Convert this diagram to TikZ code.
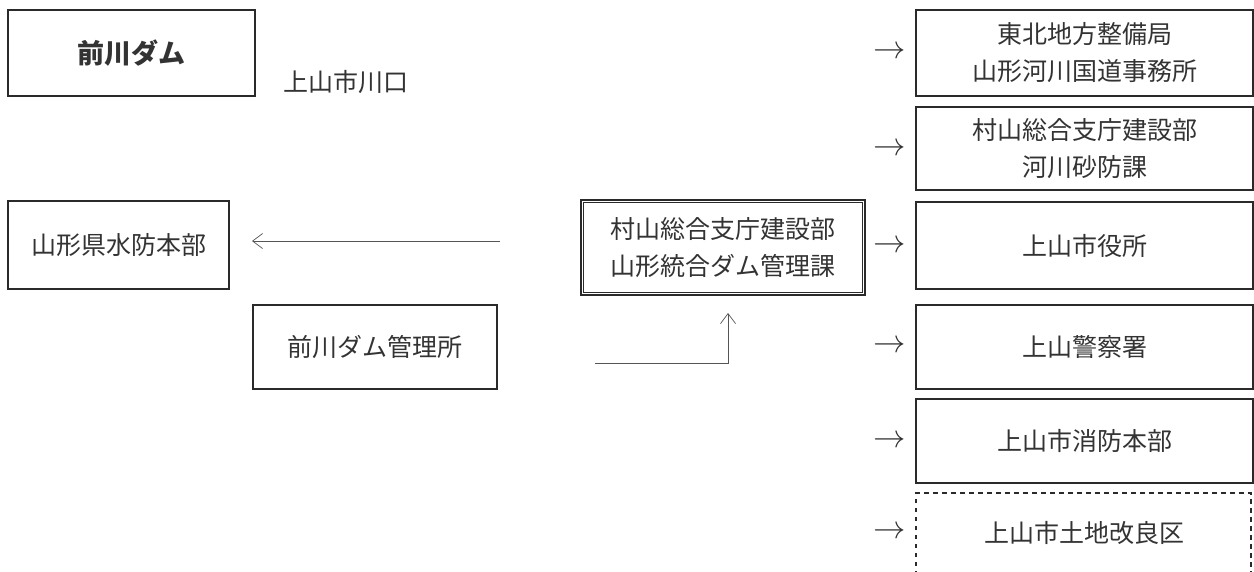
\documentclass[tikz,border=0pt]{standalone}
\usepackage{fontspec}
\usepackage{graphicx}
\newfontfamily\jp{Noto Sans CJK JP}
\usetikzlibrary{arrows.meta}
\definecolor{ink}{HTML}{2A2A2A}
\definecolor{txt}{HTML}{333333}
\tikzset{
  box/.style={draw=ink, line width=1.6pt, minimum width=337pt, minimum height=84pt, inner sep=0pt, align=center, font=\jp\fontsize{25}{37}\selectfont, text=txt},
  rbox/.style={box, minimum width=337pt},
  lbl/.style={inner sep=0pt, font=\jp\fontsize{25}{37}\selectfont, text=txt},
  arrtxt/.style={inner sep=0pt, text=txt, font=\fontsize{24}{30}\selectfont},
  conn/.style={draw=ink!80, line width=0.7pt, -{Straight Barb[length=10pt,width=15pt,line width=0.7pt]}}
}
\begin{document}
\begin{tikzpicture}[x=1pt,y=-1pt]
\useasboundingbox (0,0) rectangle (1254,571);
% top left
\node[box, line width=2.6pt, minimum width=247pt, minimum height=86pt, font=\jp\bfseries\fontsize{27}{32}\selectfont] (dam) at (131.5,53) {前川ダム};
\node[lbl] (loc) at (345.5,82) {上山市川口};
% left side
\node[box, minimum width=221pt, minimum height=88pt] (suibo) at (118.5,245) {山形県水防本部};
\node[box, minimum width=244pt, minimum height=84pt] (kanri) at (375,347) {前川ダム管理所};
% centre
\node[box, line width=1.5pt, minimum width=284pt, minimum height=95pt] (cbox) at (723,247.5) {村山総合支庁建設部\\山形統合ダム管理課};
\draw[ink, line width=0.6pt] ([shift={(3.5pt,-3.5pt)}]cbox.north west) rectangle ([shift={(-3.5pt,3.5pt)}]cbox.south east);
% right column
\node[rbox, minimum height=86pt] (r1) at (1084.5,53) {東北地方整備局\\山形河川国道事務所};
\node[rbox, minimum height=83pt] (r2) at (1084.5,148.5) {村山総合支庁建設部\\河川砂防課};
\node[rbox, minimum height=87pt] (r3) at (1084.5,245.5) {上山市役所};
\node[rbox, minimum height=84pt] (r4) at (1084.5,347) {上山警察署};
\node[rbox, minimum height=84pt] (r5) at (1084.5,441) {上山市消防本部};
\draw[ink, line width=1.5pt, dash pattern=on 4.5pt off 4.5pt] (916,575) -- (916,493) -- (1251,493) -- (1251,575);
\node[lbl] (r6) at (1084.5,533) {上山市土地改良区};
% arrow glyphs
\foreach \n/\yy in {a1/53,a2/150,a3/247,a4/347,a5/442,a6/533}{
  \node[arrtxt] (\n) at (889.5,\yy) {\scalebox{1.3}{$\rightarrow$}};
}
% connectors
\coordinate (lstart) at (500,241);
\coordinate (lend) at (252,241);
\draw[conn] (lstart) -- (lend);
\coordinate (ustart) at (595,363);
\coordinate (uend) at (728,313);
\draw[conn] (ustart) -| (uend);
\end{tikzpicture}
\end{document}
